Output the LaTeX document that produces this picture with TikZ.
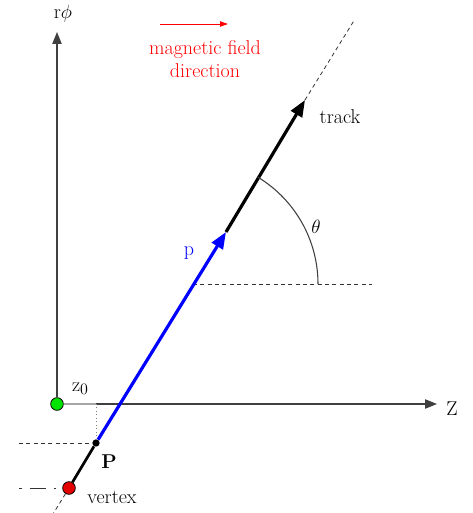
\documentclass[tikz,border=0pt]{standalone}
\usepackage{fontspec}
\usetikzlibrary{arrows.meta}
\begin{document}
\begin{tikzpicture}[x=0.75pt,y=-0.75pt,
  font=\rmfamily\fontsize{15}{17.5}\selectfont,
  axisline/.style={draw=black!75, line width=0.9pt, -{Triangle[length=9pt,width=7pt]}},
  bigdot/.style={circle, draw=black, line width=0.6pt, minimum size=9.5pt, inner sep=0pt},
  smalldot/.style={circle, fill=black, minimum size=5.5pt, inner sep=0pt},
  dashline/.style={draw=black!80, dashed, dash pattern=on 3pt off 2.5pt, line width=0.6pt},
  thickarrow/.style={line width=2.4pt, -{Triangle[length=12.5pt,width=9.5pt]}},
  lbl/.style={inner sep=0pt}]
\useasboundingbox (0,0) rectangle (472,513);

% coordinates
\coordinate (Zend) at (437,404);
\coordinate (Rend) at (57,32);
\coordinate (Zg) at (96,404);
\coordinate (Pl) at (19,443);
\coordinate (Vl) at (19,488);
\coordinate (Vb) at (53,514);
\coordinate (Btip) at (226,232);
\coordinate (Ttip) at (305,100);
\coordinate (Tx) at (355,19);
\coordinate (A) at (193,284);
\coordinate (Ah) at (372,284);
\coordinate (M1) at (160,24);
\coordinate (M2) at (228,24);

% points
\node[bigdot, fill=green!90!black] (O) at (57,404) {};
\node[smalldot] (P) at (96,443) {};
\node[bigdot, fill=red!90!black] (V) at (69,488) {};

% axes
\draw[axisline] (O) -- (Rend);
\draw[axisline] (O) -- (Zend);
\draw[gray!70, line width=2pt] (O) -- (Zg);
\draw[gray, dotted, line width=0.6pt] (Zg) -- (P);

% dashed guides
\draw[dashline] (Pl) -- (P);
\draw[dashline, dash pattern=on 2pt off 6pt on 12pt off 6pt] (Vl) -- (V);
\draw[dashline] (V) -- (Vb);
\draw[dashline] (Ttip) -- (Tx);
\draw[dashline] (A) -- (Ah);

% track
\draw[black, line width=2pt] (V) -- (P);
\draw[blue, thickarrow] (P) -- (Btip);
\draw[black, thickarrow] (Btip) -- (Ttip);

% angle
\draw[black!75, line width=0.8pt] (318,284) arc[start angle=0, end angle=-58.7, radius=125];

% magnetic field
\draw[red, line width=0.7pt, -{Triangle[length=6pt,width=4pt]}] (M1) -- (M2);
\node[red, align=center, lbl] (mf) at (205,59) {magnetic field\\direction};

% labels
\node[lbl] (rphi) at (63,14) {r$\phi$};
\node[lbl] (Zl) at (452,409) {Z};
\node[lbl] (z0) at (80,389) {z\raisebox{-0.4ex}{\fontsize{12}{12}\selectfont 0}};
\node[lbl, font=\rmfamily\fontsize{15}{17.5}\selectfont\bfseries] (Pt) at (109,462) {P};
\node[lbl] (vt) at (112,497) {vertex};
\node[lbl] (tr) at (340,117) {track};
\node[lbl, blue] (pl) at (189,253) {p};
\node[lbl] (th) at (316,227) {$\theta$};
\end{tikzpicture}
\end{document}
